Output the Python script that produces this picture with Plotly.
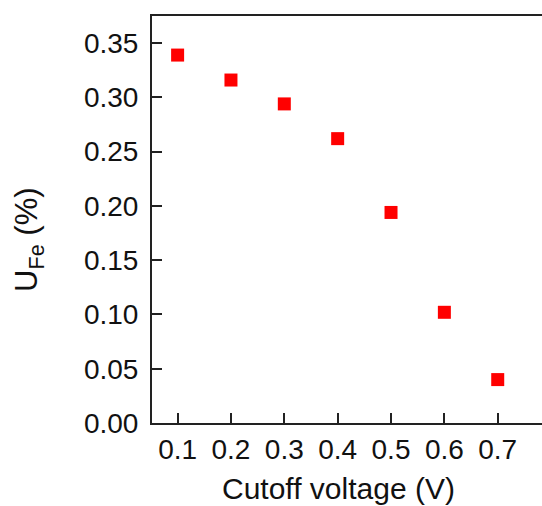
import plotly.graph_objects as go

cutoff_voltage = [0.1, 0.2, 0.3, 0.4, 0.5, 0.6, 0.7]
u_fe = [0.339, 0.316, 0.294, 0.262, 0.194, 0.102, 0.040]
x_ticks = [0.1, 0.2, 0.3, 0.4, 0.5, 0.6, 0.7]
y_ticks = [0.00, 0.05, 0.10, 0.15, 0.20, 0.25, 0.30, 0.35]
x_title = "Cutoff voltage (V)"
y_title = "U<sub>Fe</sub> (%)"

fig = go.Figure()
fig.add_trace(go.Scatter(
    x=cutoff_voltage, y=u_fe, mode="markers",
    marker=dict(symbol="square", size=13, color="#FF0000", line=dict(width=0)),
    showlegend=False, cliponaxis=False,
))

font_family = "Liberation Sans, Arial, sans-serif"
fig.update_layout(
    width=542, height=506,
    margin=dict(l=152, r=0, t=16, b=83),
    paper_bgcolor="white", plot_bgcolor="white",
    font=dict(family=font_family, size=28, color="#111111"),
    xaxis=dict(
        range=[0.052, 0.783], tickvals=x_ticks, tickformat=".1f",
        ticks="inside", ticklen=10, tickwidth=2, tickcolor="#222222",
        showline=True, linewidth=2, linecolor="#222222", mirror=True,
        showgrid=False, zeroline=False,
        ticklabelstandoff=0,
    ),
    yaxis=dict(
        range=[0, 0.375], tickvals=y_ticks, tickformat=".2f",
        ticks="inside", ticklen=10, tickwidth=2, tickcolor="#222222",
        showline=True, linewidth=2, linecolor="#222222", mirror=False,
        showgrid=False, zeroline=False,
        ticklabelstandoff=6,
    ),
    annotations=[
        dict(text=x_title, xref="paper", yref="paper", x=0.477, y=-0.162,
             xanchor="center", yanchor="middle", showarrow=False,
             font=dict(size=30, family=font_family, color="#111111")),
        dict(text=y_title, xref="paper", yref="paper", x=-0.315, y=0.45,
             xanchor="center", yanchor="middle", showarrow=False, textangle=-90,
             font=dict(size=31, family=font_family, color="#111111")),
    ],
)

fig.write_html("out.html")
